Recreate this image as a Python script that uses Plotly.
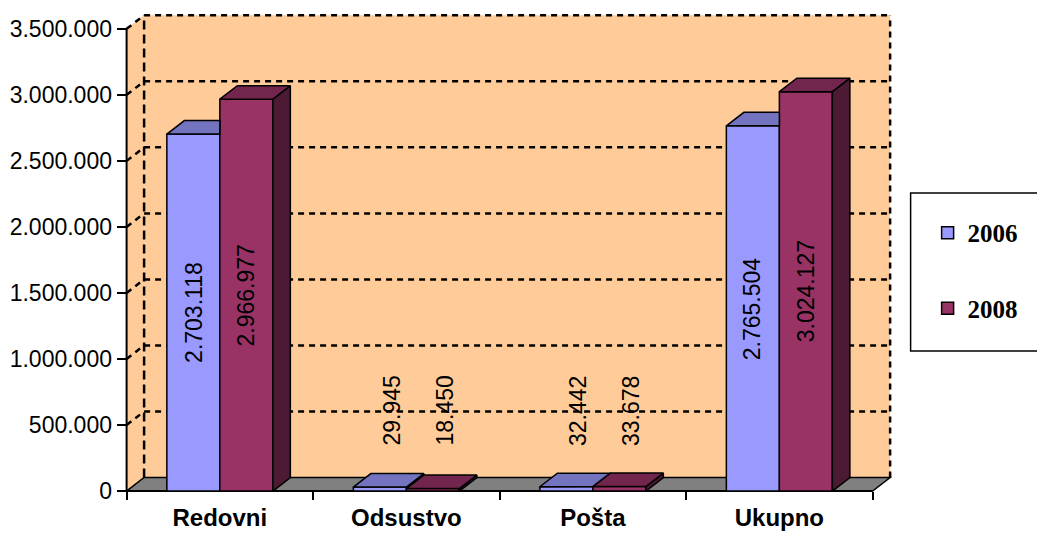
import plotly.graph_objects as go

# ---------------- data ----------------
categories = ["Redovni", "Odsustvo", "Pošta", "Ukupno"]
series_names = ["2006", "2008"]
values_2006 = [2703118, 29945, 32442, 2765504]
values_2008 = [2966977, 18450, 33678, 3024127]
y_tick_values = [0, 500000, 1000000, 1500000, 2000000, 2500000, 3000000, 3500000]

# ---------------- geometry / style ----------------
W, H = 1037, 533
X0_PX = 127.0            # pixel of category boundary x=-0.5
CAT_PX = 186.5           # pixels per category
Y0_PX = 491.0            # pixel of value 0
VAL_PER_PX = 500000 / 66.0
DX = 17.5 / CAT_PX       # 3D depth offset (x, data units)
DY = 13.5 * VAL_PER_PX   # 3D depth offset (y, data units)
BW = 53.0 / CAT_PX       # bar width (data units)
XR = [-0.53, 3.62]
YR = [-30000, 3650000]
YMAX = y_tick_values[-1]

plot_left = X0_PX + (XR[0] + 0.5) * CAT_PX
plot_right = X0_PX + (XR[1] + 0.5) * CAT_PX
plot_top = Y0_PX - YR[1] / VAL_PER_PX
plot_bottom = Y0_PX - YR[0] / VAL_PER_PX
ml, mr, mt, mb = plot_left, W - plot_right, plot_top, H - plot_bottom
PW, PH = plot_right - plot_left, plot_bottom - plot_top


def px_to_paper(px, py):
    return (px - plot_left) / PW, (plot_bottom - py) / PH


ORANGE = "#FFCC99"
FLOOR = "#808080"
C06 = ["#9999FF", "#7373BF", "#4D4D80"]   # front, top, side
C08 = ["#993366", "#73264D", "#4D1A33"]
EDGE = dict(color="black", width=1.5)
GRID = dict(color="black", width=2.5, dash="6px,5px")

fig = go.Figure()

# front faces
for name, vals, col, off in [(series_names[0], values_2006, C06, -BW),
                             (series_names[1], values_2008, C08, 0.0)]:
    fig.add_trace(go.Bar(
        x=list(range(len(categories))), y=vals, width=BW, offset=off,
        marker=dict(color=col[0], line=EDGE), name=name, legendgroup=name,
        hoverinfo="skip"))


def poly(xs, ys, color):
    fig.add_trace(go.Scatter(
        x=xs + [xs[0]], y=ys + [ys[0]], mode="lines", fill="toself",
        fillcolor=color, line=EDGE, showlegend=False, hoverinfo="skip"))


for i in range(len(categories)):
    v1, v2 = values_2006[i], values_2008[i]
    x0, x1, x2 = i - BW, i, i + BW
    if v1 > v2:
        # visible part of 2006 side above the 2008 bar
        poly([x1, x1 + DX, x1 + DX, x1], [v2, v2 + DY, v1 + DY, v1], C06[2])
    else:
        # 2006 top, clipped where the 2008 front face hides it
        if v2 >= v1 + DY:
            poly([x0, x1, x1, x0 + DX], [v1, v1, v1 + DY, v1 + DY], C06[1])
        else:
            xc = x1 + DX * (v2 - v1) / DY
            poly([x0, x1, x1, xc, x1 + DX, x0 + DX],
                 [v1, v1, v2, v2, v1 + DY, v1 + DY], C06[1])
    # 2008 side and top
    poly([x2, x2 + DX, x2 + DX, x2], [0, DY, v2 + DY, v2], C08[2])
    poly([x1, x2, x2 + DX, x1 + DX], [v2, v2, v2 + DY, v2 + DY], C08[1])
    if v1 > v2:
        poly([x0, x1, x1 + DX, x0 + DX], [v1, v1, v1 + DY, v1 + DY], C06[1])

# ---------------- walls, floor, gridlines ----------------
L, R = -0.5, len(categories) - 0.5
shapes = []
shapes.append(dict(type="path", layer="below", line=dict(width=0), fillcolor=ORANGE,
                   path=f"M{L},0 L{L},{YMAX} L{L+DX},{YMAX+DY} L{L+DX},{DY} Z",
                   xref="x", yref="y"))
shapes.append(dict(type="rect", layer="below", line=dict(width=0), fillcolor=ORANGE,
                   x0=L + DX, x1=R + DX, y0=DY, y1=YMAX + DY, xref="x", yref="y"))
for v in y_tick_values[1:]:
    shapes.append(dict(type="line", layer="below", xref="x", yref="y",
                       x0=L + DX, x1=R + DX, y0=v + DY, y1=v + DY, line=GRID))
    shapes.append(dict(type="line", layer="below", xref="x", yref="y",
                       x0=L, x1=L + DX, y0=v, y1=v + DY, line=GRID))
shapes.append(dict(type="line", layer="below", xref="x", yref="y",
                   x0=L + DX, x1=L + DX, y0=DY, y1=YMAX + DY,
                   line=dict(color="black", width=2.5, dash="9px,5px")))
shapes.append(dict(type="line", layer="below", xref="x", yref="y",
                   x0=R + DX, x1=R + DX, y0=DY, y1=YMAX + DY, line=GRID))
shapes.append(dict(type="path", layer="below", fillcolor=FLOOR,
                   line=dict(color="black", width=1.5), xref="x", yref="y",
                   path=f"M{L},0 L{R},0 L{R+DX},{DY} L{L+DX},{DY} Z"))
shapes.append(dict(type="line", layer="below", xref="x", yref="y",
                   x0=L, x1=L, y0=0, y1=YMAX, line=dict(color="black", width=2)))
shapes.append(dict(type="line", layer="below", xref="x", yref="y",
                   x0=L, x1=R, y0=0, y1=0, line=dict(color="black", width=2)))
# legend frame
lx0, ly1 = px_to_paper(911, 193)
lx1, ly0 = px_to_paper(1045, 351)
shapes.append(dict(type="rect", xref="paper", yref="paper", layer="below",
                   x0=lx0, x1=lx1, y0=ly0, y1=ly1, fillcolor="white",
                   line=dict(color="black", width=1.5)))

# ---------------- value labels ----------------
LABEL_FONT = dict(family="Liberation Sans, Arial", size=23, color="black")
LABEL_MIN_CENTER = 610000
SMALL_SHIFT = 0.065
annotations = []
for vals, off in [(values_2006, -BW / 2), (values_2008, BW / 2)]:
    for i, v in enumerate(vals):
        txt = f"{v:,}".replace(",", ".")
        if v / 2 < LABEL_MIN_CENTER:
            ax, ay = i + off + SMALL_SHIFT, LABEL_MIN_CENTER
        else:
            ax, ay = i + off, v / 2
        annotations.append(dict(x=ax, y=ay, xref="x", yref="y", text=txt,
                                textangle=-90, showarrow=False, font=LABEL_FONT))

lgx, lgy = px_to_paper(928, 210)

fig.update_layout(
    width=W, height=H,
    margin=dict(l=ml, r=mr, t=mt, b=mb, autoexpand=False),
    paper_bgcolor="white", plot_bgcolor="rgba(0,0,0,0)",
    separators=",.",
    barmode="overlay",
    shapes=shapes, annotations=annotations,
    showlegend=True,
    legend=dict(x=lgx, y=lgy, xanchor="left", yanchor="top",
                bgcolor="rgba(0,0,0,0)", borderwidth=0,
                traceorder="grouped", tracegroupgap=40,
                font=dict(family="Liberation Serif, Times New Roman", size=25,
                          color="black", weight="bold")),
    xaxis=dict(range=XR, anchor="free",
               position=(0 - YR[0]) / (YR[1] - YR[0]),
               tickmode="array", tickvals=list(range(len(categories))),
               ticktext=categories, ticks="", showgrid=False, zeroline=False,
               showline=False, ticklabelstandoff=10,
               tickfont=dict(family="Liberation Sans, Arial", size=24,
                             color="black", weight="bold"),
               minor=dict(tickmode="array",
                          tickvals=[k - 0.5 for k in range(len(categories) + 1)],
                          ticks="outside", ticklen=8, tickwidth=1.5,
                          tickcolor="black", showgrid=False)),
    yaxis=dict(range=YR, anchor="free",
               position=(-0.5 - XR[0]) / (XR[1] - XR[0]),
               tickmode="array", tickvals=y_tick_values, tickformat=",d",
               ticks="outside", ticklen=10, tickwidth=1.5, tickcolor="black",
               showgrid=False, zeroline=False, showline=False,
               tickfont=dict(family="Liberation Sans, Arial", size=23, color="black")),
)

fig.write_html("out.html", config={"displayModeBar": False},
               post_script="document.body.style.margin='0';")
